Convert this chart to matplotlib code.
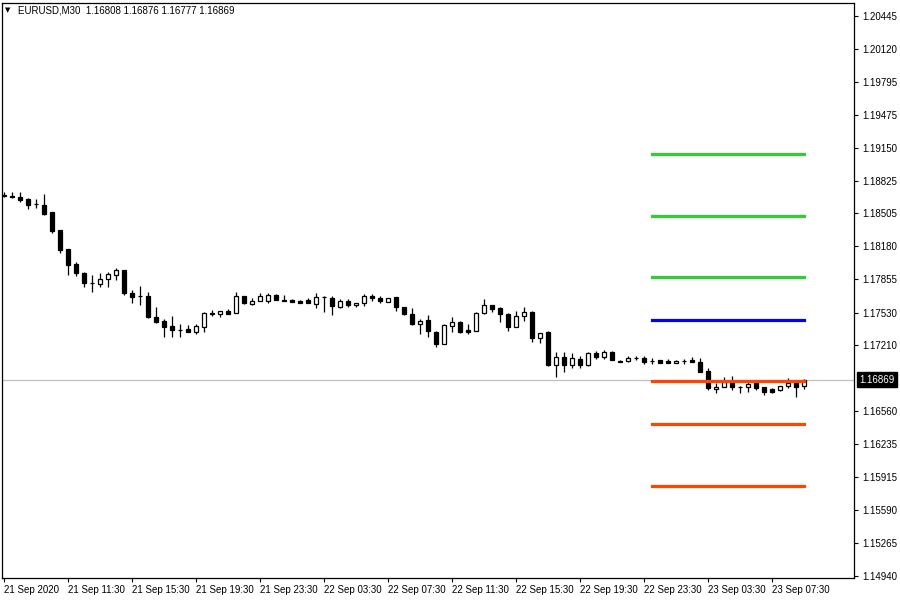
import matplotlib
matplotlib.use("Agg")
import matplotlib.pyplot as plt
import matplotlib.transforms as mtransforms
import numpy as np

# ---------------- data ----------------
opens = [1.18685, 1.18675, 1.18666, 1.18646, 1.18597, 1.18587, 1.18518, 1.18341, 1.18154, 1.18007,
         1.17918, 1.17820, 1.17810, 1.17859, 1.17898, 1.17948, 1.17721, 1.17695, 1.17692, 1.17486,
         1.17446, 1.17397, 1.17360, 1.17367, 1.17338, 1.17387, 1.17520, 1.17515, 1.17544, 1.17525,
         1.17692, 1.17613, 1.17643, 1.17643, 1.17702, 1.17653, 1.17653, 1.17643, 1.17653, 1.17613,
         1.17685, 1.17672, 1.17584, 1.17643, 1.17603, 1.17623, 1.17692, 1.17672, 1.17633, 1.17682,
         1.17584, 1.17515, 1.17417, 1.17456, 1.17338, 1.17220, 1.17397, 1.17436, 1.17357, 1.17348,
         1.17525, 1.17603, 1.17574, 1.17515, 1.17387, 1.17495, 1.17535, 1.17279, 1.17338, 1.17013,
         1.17092, 1.17013, 1.17072, 1.17013, 1.17131, 1.17092, 1.17141, 1.17043, 1.17052, 1.17085,
         1.17082, 1.17055, 1.17062, 1.17052, 1.17033, 1.17055, 1.17062, 1.17043, 1.16954, 1.16777,
         1.16797, 1.16836, 1.16800, 1.16797, 1.16836, 1.16797, 1.16777, 1.16767, 1.16807, 1.16836,
         1.16808]
highs = [1.18710, 1.18715, 1.18715, 1.18656, 1.18646, 1.18695, 1.18518, 1.18341, 1.18154, 1.18026,
         1.17928, 1.17899, 1.17918, 1.17928, 1.17967, 1.17948, 1.17751, 1.17790, 1.17731, 1.17584,
         1.17466, 1.17495, 1.17417, 1.17407, 1.17417, 1.17535, 1.17554, 1.17544, 1.17564, 1.17731,
         1.17692, 1.17672, 1.17721, 1.17721, 1.17711, 1.17702, 1.17662, 1.17653, 1.17672, 1.17721,
         1.17692, 1.17692, 1.17662, 1.17662, 1.17623, 1.17711, 1.17711, 1.17692, 1.17672, 1.17682,
         1.17584, 1.17574, 1.17466, 1.17505, 1.17348, 1.17417, 1.17485, 1.17446, 1.17417, 1.17535,
         1.17662, 1.17603, 1.17584, 1.17525, 1.17544, 1.17584, 1.17544, 1.17328, 1.17348, 1.17141,
         1.17141, 1.17131, 1.17102, 1.17141, 1.17151, 1.17161, 1.17151, 1.17062, 1.17102, 1.17102,
         1.17102, 1.17082, 1.17062, 1.17072, 1.17062, 1.17072, 1.17092, 1.17082, 1.16984, 1.16836,
         1.16895, 1.16905, 1.16807, 1.16846, 1.16836, 1.16797, 1.16787, 1.16807, 1.16885, 1.16836,
         1.16876]
lows = [1.18670, 1.18656, 1.18616, 1.18548, 1.18557, 1.18489, 1.18312, 1.18115, 1.17899, 1.17889,
        1.17780, 1.17731, 1.17780, 1.17780, 1.17849, 1.17702, 1.17623, 1.17603, 1.17480, 1.17427,
        1.17289, 1.17289, 1.17289, 1.17335, 1.17318, 1.17338, 1.17495, 1.17485, 1.17515, 1.17525,
        1.17613, 1.17603, 1.17643, 1.17623, 1.17653, 1.17643, 1.17633, 1.17623, 1.17623, 1.17574,
        1.17535, 1.17505, 1.17574, 1.17584, 1.17584, 1.17593, 1.17643, 1.17623, 1.17633, 1.17544,
        1.17505, 1.17407, 1.17318, 1.17289, 1.17190, 1.17220, 1.17338, 1.17328, 1.17318, 1.17348,
        1.17515, 1.17535, 1.17436, 1.17348, 1.17387, 1.17446, 1.17240, 1.17230, 1.17004, 1.16896,
        1.16945, 1.16984, 1.16984, 1.17004, 1.17072, 1.17072, 1.17062, 1.17043, 1.17043, 1.17062,
        1.17023, 1.17023, 1.17033, 1.17033, 1.17033, 1.17023, 1.17043, 1.16945, 1.16767, 1.16738,
        1.16797, 1.16767, 1.16738, 1.16748, 1.16767, 1.16718, 1.16738, 1.16757, 1.16787, 1.16699,
        1.16777]
closes = [1.18680, 1.18666, 1.18636, 1.18587, 1.18597, 1.18499, 1.18331, 1.18144, 1.17997, 1.17918,
          1.17820, 1.17820, 1.17859, 1.17908, 1.17948, 1.17721, 1.17682, 1.17690, 1.17486, 1.17436,
          1.17387, 1.17357, 1.17355, 1.17338, 1.17397, 1.17525, 1.17525, 1.17544, 1.17515, 1.17692,
          1.17623, 1.17643, 1.17692, 1.17702, 1.17653, 1.17643, 1.17633, 1.17623, 1.17623, 1.17682,
          1.17680, 1.17593, 1.17643, 1.17603, 1.17623, 1.17692, 1.17672, 1.17643, 1.17672, 1.17584,
          1.17515, 1.17417, 1.17446, 1.17348, 1.17220, 1.17407, 1.17436, 1.17338, 1.17338, 1.17525,
          1.17603, 1.17564, 1.17515, 1.17387, 1.17495, 1.17535, 1.17279, 1.17328, 1.17013, 1.17092,
          1.17013, 1.17082, 1.17013, 1.17131, 1.17092, 1.17141, 1.17062, 1.17052, 1.17082, 1.17080,
          1.17043, 1.17050, 1.17033, 1.17033, 1.17052, 1.17050, 1.17043, 1.16945, 1.16787, 1.16797,
          1.16846, 1.16797, 1.16795, 1.16826, 1.16787, 1.16748, 1.16748, 1.16807, 1.16836, 1.16797,
          1.16869]

time_labels = ["21 Sep 2020", "21 Sep 11:30", "21 Sep 15:30", "21 Sep 19:30", "21 Sep 23:30",
               "22 Sep 03:30", "22 Sep 07:30", "22 Sep 11:30", "22 Sep 15:30", "22 Sep 19:30",
               "22 Sep 23:30", "23 Sep 03:30", "23 Sep 07:30"]
label_bar_step = 8

price_labels = ["1.20445", "1.20120", "1.19795", "1.19475", "1.19150", "1.18825", "1.18505",
                "1.18180", "1.17855", "1.17530", "1.17210", "1.16560", "1.16235", "1.15915",
                "1.15590", "1.15265", "1.14940"]

level_prices = [1.19088, 1.18479, 1.17879, 1.17457, 1.16857, 1.16434, 1.15825]
level_colors = ["#32CD32", "#32CD32", "#32CD32", "#0000FF", "#FF4500", "#FF4500", "#FF4500"]
level_start_bar = 81
level_end_bar = 100

symbol_title = "EURUSD,M30  1.16808 1.16876 1.16777 1.16869"
current_price = 1.16869
current_price_text = "1.16869"

# ---------------- figure ----------------
FONT = "Liberation Sans"
fig = plt.figure(figsize=(9, 6), dpi=100)
fig.patch.set_facecolor("white")
ax = fig.add_axes([2 / 900, 1 - 578 / 600, 852 / 900, 575 / 600])
ax.set_facecolor("white")

n = len(opens)
x = np.arange(n)
o = np.array(opens); h = np.array(highs); l = np.array(lows); c = np.array(closes)

# wicks
ax.vlines(x, l, h, color="black", linewidth=0.9, zorder=3)
# bodies
up = c >= o
bottoms = np.minimum(o, c)
heights = np.maximum(np.abs(c - o), 0.000001)
ax.bar(x[up], heights[up], bottom=bottoms[up], width=0.55, color="white",
       edgecolor="black", linewidth=0.9, zorder=4)
ax.bar(x[~up], heights[~up], bottom=bottoms[~up], width=0.55, color="black",
       edgecolor="black", linewidth=0.9, zorder=4)

# current price line
ax.axhline(current_price, color="#C0C0C0", linewidth=0.9, zorder=1)

# level lines
for p, col in zip(level_prices, level_colors):
    ax.plot([level_start_bar, level_end_bar], [p, p], color=col, linewidth=2.3,
            solid_capstyle="projecting", zorder=5)

# limits
ax.set_xlim(-0.25, 106.25)
ax.set_ylim(1.14920, 1.20573)

# x ticks
xt = np.arange(len(time_labels)) * label_bar_step
ax.set_xticks(xt)
ax.set_xticklabels(time_labels, ha="left", fontsize=7, family=FONT)
ax.tick_params(axis="x", direction="out", length=3, width=0.8, pad=2, colors="black")

# y ticks on right
ax.yaxis.tick_right()
ax.set_yticks([float(s) for s in price_labels])
ax.set_yticklabels(price_labels, fontsize=7, family=FONT)
ax.tick_params(axis="y", direction="out", length=3, width=0.8, pad=3, colors="black",
               left=False, right=True)

for s in ax.spines.values():
    s.set_color("black")
    s.set_linewidth(0.9)

# current price box
trans = mtransforms.blended_transform_factory(ax.transAxes, ax.transData)
ax.text(1.0065, current_price, current_price_text, transform=trans, ha="left", va="center",
        fontsize=7, family=FONT, color="white", fontweight="normal",
        bbox=dict(boxstyle="square,pad=0.25", fc="black", ec="black"), zorder=10, clip_on=False)

# title
fig.text(18 / 900, 1 - 10.5 / 600, symbol_title, fontsize=7, family=FONT, color="black",
         ha="left", va="center")
fig.text(5 / 900, 1 - 10.5 / 600, "\u25BC", fontsize=5, family="DejaVu Sans", color="black",
         ha="left", va="center")

fig.savefig("out.png", dpi=100, facecolor="white")
